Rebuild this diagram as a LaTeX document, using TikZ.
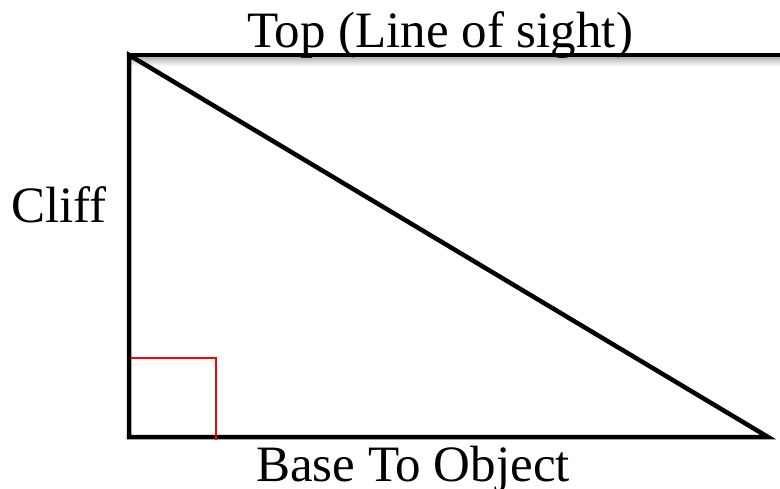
\documentclass[tikz,border=0pt]{standalone}
\usepackage{fontspec}
\setmainfont{Liberation Serif}
\usepackage{tikz}
\usetikzlibrary{positioning,calc}
\definecolor{rightred}{HTML}{FF0000}

\begin{document}
\begin{tikzpicture}[x=1pt,y=-1pt,
    side/.style={line width=4.5pt,black,line cap=round},
    mark90/.style={line width=2pt,rightred},
    lbl/.style={font=\fontsize{51}{56}\selectfont,anchor=base,inner sep=0pt}]
  \useasboundingbox (0,0) rectangle (780,488);
  % corners of the triangle
  \coordinate (top) at (129,55);
  \coordinate (base) at (129,437);
  \coordinate (obj) at (768,437);
  \coordinate (sight) at (782,55);
  % soft shadow under the line of sight
  \shade[top color=black!30,bottom color=white] (131,57) rectangle (780,66);
  \draw[side] (top)--(sight);
  \draw[side] (top)--(base)--(obj)--cycle;
  % right angle
  \coordinate (sq1) at (131,358);
  \coordinate (sq2) at (216,358);
  \coordinate (sq3) at (216,440);
  \draw[mark90] (sq1)--(sq2)--(sq3);
  \node[lbl] (toplbl) at (440,47) {Top (Line of sight)};
  \node[lbl] (clifflbl) at (59,222) {Cliff};
  \node[lbl] (baselbl) at (413,481) {Base To Object};
\end{tikzpicture}
\end{document}
